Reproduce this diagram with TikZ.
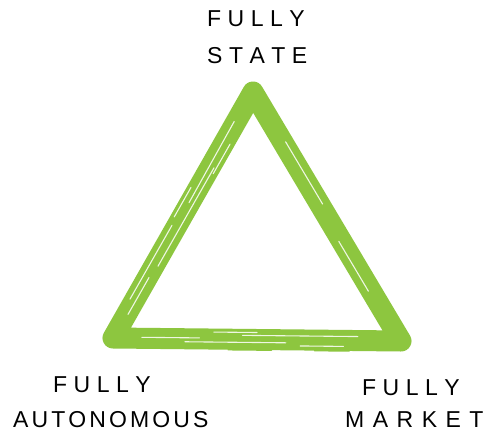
\documentclass[tikz,border=0pt]{standalone}
\usepackage{fontspec}
\usetikzlibrary{calc}
\setmainfont{Liberation Sans}
\newfontfamily\handfont{Liberation Sans}
\definecolor{brushgreen}{RGB}{141,198,63}
\tikzset{
  brush/.style={draw=brushgreen, line width=21pt, line join=round, line cap=round},
  streak/.style={draw=white, line width=1.1pt, line cap=round, opacity=0.85},
  fringe/.style={draw=brushgreen, line width=1.5pt, line cap=round},
  label/.style={font=\handfont\fontsize{23}{25}\selectfont, text=black, inner sep=0pt, anchor=base west}
}
\newcommand{\gk}[1]{\kern#1pt\relax}
\begin{document}
\begin{tikzpicture}[x=1pt,y=-1pt]
\path[use as bounding box, fill=white] (0,0) rectangle (489,431);
\coordinate (top) at (253,92);
\coordinate (bl) at (113,338);
\coordinate (br) at (401,341);
\draw[brush] (top) -- (bl) -- (br) -- cycle;
% rough fringes
\draw[fringe] ($(top)!0.30!(bl)+(-10,-1)$) -- ($(top)!0.48!(bl)+(-10,-1)$);
\draw[fringe] ($(top)!0.60!(bl)+(-10,-1)$) -- ($(top)!0.72!(bl)+(-10,-1)$);
\draw[fringe] ($(bl)!0.40!(br)+(0,10.5)$) -- ($(bl)!0.55!(br)+(0,10.5)$);
\draw[fringe] ($(bl)!0.70!(br)+(0,10.5)$) -- ($(bl)!0.82!(br)+(0,10.5)$);
% texture streaks
\draw[streak] ($(top)!0.12!(bl)+(-2,0)$) -- ($(top)!0.45!(bl)+(-1,0)$);
\draw[streak] ($(top)!0.30!(bl)+(3,2)$) -- ($(top)!0.70!(bl)+(3,2)$);
\draw[streak] ($(top)!0.55!(bl)+(-4,-2)$) -- ($(top)!0.85!(bl)+(-4,-2)$);
\draw[streak] ($(top)!0.20!(bl)+(5,3)$) -- ($(top)!0.32!(bl)+(5,3)$);
\draw[streak] ($(top)!0.40!(bl)+(-6,-3)$) -- ($(top)!0.52!(bl)+(-6,-3)$);
\draw[streak] ($(top)!0.75!(bl)+(1,1)$) -- ($(top)!0.90!(bl)+(1,1)$);
\draw[streak] ($(bl)!0.25!(br)+(0,3)$) -- ($(bl)!0.60!(br)+(0,3)$);
\draw[streak] ($(bl)!0.45!(br)+(0,-4)$) -- ($(bl)!0.85!(br)+(0,-4)$);
\draw[streak] ($(bl)!0.10!(br)+(0,-1)$) -- ($(bl)!0.30!(br)+(0,-1)$);
\draw[streak] ($(bl)!0.65!(br)+(0,6)$) -- ($(bl)!0.80!(br)+(0,6)$);
\draw[streak] ($(bl)!0.35!(br)+(0,-7)$) -- ($(bl)!0.50!(br)+(0,-7)$);
\draw[streak] ($(br)!0.55!(top)+(3,0)$) -- ($(br)!0.80!(top)+(3,0)$);
\draw[streak] ($(br)!0.20!(top)+(-3,0)$) -- ($(br)!0.40!(top)+(-3,0)$);
% labels
\node[label] (s1) at (207,26) {F\gk{6.5}U\gk{6.5}L\gk{6.5}L\gk{6.5}Y};
\node[label] (s2) at (207,63) {S\gk{6.5}T\gk{6.5}A\gk{6.5}T\gk{6.5}E};
\node[label] (a1) at (53,392) {F\gk{6.5}U\gk{6.5}L\gk{6.5}L\gk{6.5}Y};
\node[label] (a2) at (13,427) {A\gk{3.1}U\gk{3.1}T\gk{3.1}O\gk{3.1}N\gk{3.1}O\gk{3.1}M\gk{3.1}O\gk{3.1}U\gk{3.1}S};
\node[label] (m1) at (362,395) {F\gk{6.5}U\gk{6.5}L\gk{6.5}L\gk{6.5}Y};
\node[label] (m2) at (345,427) {M\gk{8.5}A\gk{8.5}R\gk{8.5}K\gk{8.5}E\gk{8.5}T};
\end{tikzpicture}
\end{document}
